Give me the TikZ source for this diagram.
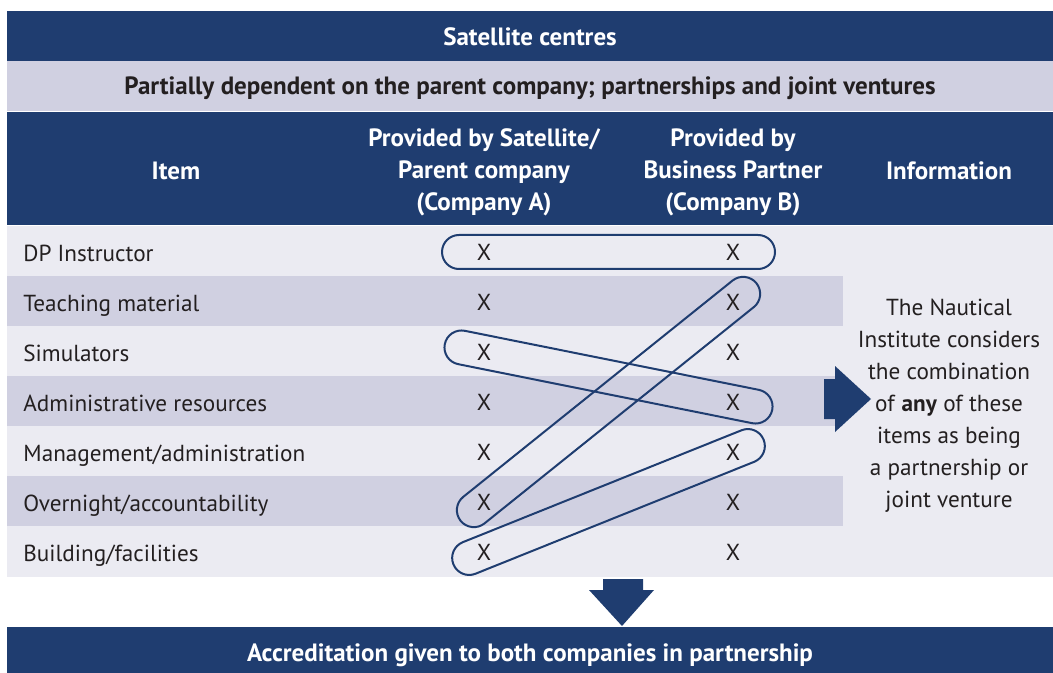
\documentclass[tikz,border=0pt]{standalone}
\usepackage{fontspec}
\setmainfont{PT Sans}
\usetikzlibrary{calc}

\definecolor{navy}{HTML}{1F3D70}
\definecolor{stripe}{HTML}{D0D0E1}
\definecolor{paper}{HTML}{EBEBF2}
\definecolor{ink}{HTML}{231F20}

\tikzset{
  cell/.style = {font=\fontsize{11.6}{16}\selectfont, text=ink, inner sep=0pt},
  head/.style = {font=\bfseries\fontsize{12.5}{16}\selectfont, text=white, align=center, inner sep=0pt},
  grpbox/.style = {draw=navy, line width=1pt, rounded corners=8.5pt, minimum height=17pt, inner sep=0pt}
}

% loop round two X marks: from, to, extra length
\newcommand{\grp}[3]{%
  \path let \p1 = ($(#2.center)-(#1.center)$), \n1 = {veclen(\x1,\y1)} in
    (#1.center) -- (#2.center) node[midway, sloped, grpbox, minimum width={\n1+#3}] {};
}

\begin{document}
\begin{tikzpicture}[x = 0.5pt, y = -0.5pt]
    \useasboundingbox (0,0) rectangle (1053,673);
    % bars and rows
    \fill[navy] (7,11) rectangle (1053,61);
    \fill[stripe] (7,61) rectangle (1053,111);
    \fill[navy] (7,112) rectangle (1053,225);
    \fill[paper] (7,226) rectangle (1053,577);
    \foreach \r in {1,3,5}
        \fill[stripe] (7,226+50*\r) rectangle (843,276+50*\r);
    \fill[navy] (7,627) rectangle (1053,673);

    % headings
    \node[head] (title) at (530,37) {Satellite centres};
    \node[head, text=ink] (sub) at (530,88) {Partially dependent on the parent company; partnerships and joint ventures};
    \node[head] (hitem) at (176,171) {Item};
    \node[head] (hcoa) at (484,172) {Provided by Satellite/\\Parent company\\(Company A)};
    \node[head] (hcob) at (733,172) {Provided by\\Business Partner\\(Company B)};
    \node[head] (hinfo) at (949,171) {Information};

    % items and marks
    \foreach \t [count=\i] in {DP Instructor, Teaching material, Simulators, Administrative resources,
        Management/administration, Overnight/accountability, Building/facilities}
        \node[cell, anchor=base west] (i\i) at (23,211.5+50*\i) {\t};
    \foreach \i in {1,...,7} {
        \node[cell] (a\i) at (484,202+50*\i) {X};
        \node[cell] (b\i) at (733,202+50*\i) {X};
    }

    \grp{a1}{b1}{42pt}
    \grp{a6}{b2}{30pt}
    \grp{a3}{b4}{40pt}
    \grp{a7}{b5}{33pt}

    % information
    \node[cell, align=center] (info) at (949,406) {The Nautical\\Institute considers\\the combination\\of \textbf{any} of these\\items as being\\a partnership or\\joint venture};
    \fill[navy] (824,379) -- (835,379) -- (835,366) -- (871,399) -- (835,432) -- (835,419) -- (824,419) -- cycle;

    % result
    \fill[navy] (603,579) -- (643,579) -- (643,590) -- (654,590) -- (622,626) -- (589,590) -- (603,590) -- cycle;
    \node[head] (result) at (530,655) {Accreditation given to both companies in partnership};
\end{tikzpicture}
\end{document}
